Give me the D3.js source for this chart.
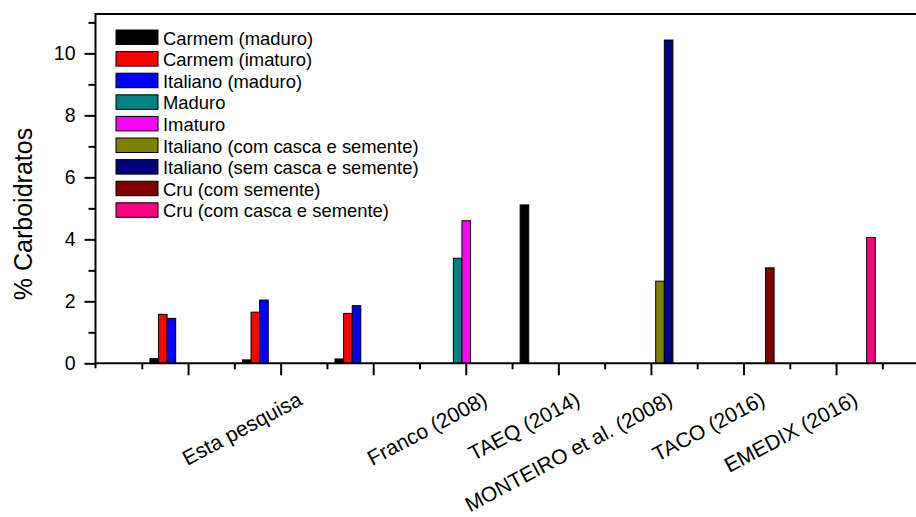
<!DOCTYPE html>
<html>
<head>
<meta charset="utf-8">
<script src="https://cdn.jsdelivr.net/npm/d3@7"></script>
<style>
  html, body { margin: 0; padding: 0; background: #fff; }
  svg { display: block; font-family: "Liberation Sans", Arial, sans-serif; }
</style>
</head>
<body>
<svg id="chart" width="916" height="517"></svg>
<script>
// Group labels along the x axis (the three "Esta pesquisa" groups share one label)
const groupLabels = ["", "Esta pesquisa", "", "Franco (2008)", "TAEQ (2014)", "MONTEIRO et al. (2008)", "TACO (2016)", "EMEDIX (2016)"];

// Series names and fill colours, in column order
const seriesNames = [
  "Carmem (maduro)",
  "Carmem (imaturo)",
  "Italiano (maduro)",
  "Maduro",
  "Imaturo",
  "Italiano (com casca e semente)",
  "Italiano (sem casca e semente)",
  "Cru (com semente)",
  "Cru (com casca e semente)"
];
const seriesColors = ["#000000", "#ff0000", "#0000ff", "#008080", "#ff00ff", "#808000", "#000080", "#800000", "#ff0080"];

// % carbohydrate per group, one array per series (null = not reported)
const carmemMaduro      = [0.15, 0.11, 0.14, null, 5.11, null, null, null];
const carmemImaturo     = [1.58, 1.65, 1.61, null, null, null, null, null];
const italianoMaduro    = [1.45, 2.04, 1.86, null, null, null, null, null];
const maduro            = [null, null, null, 3.39, null, null, null, null];
const imaturo           = [null, null, null, 4.60, null, null, null, null];
const italianoComCasca  = [null, null, null, null, null, 2.65, null, null];
const italianoSemCasca  = [null, null, null, null, null, 10.43, null, null];
const cruComSemente     = [null, null, null, null, null, null, 3.08, null];
const cruComCasca       = [null, null, null, null, null, null, null, 4.06];

const seriesValues = [carmemMaduro, carmemImaturo, italianoMaduro, maduro, imaturo,
                      italianoComCasca, italianoSemCasca, cruComSemente, cruComCasca];

// Axis ticks
const yMajorTicks = [0, 2, 4, 6, 8, 10];
const yMinorTicks = [1, 3, 5, 7, 9, 11];
const xMajorTicks = [1, 2, 3, 4, 5, 6, 7, 8, 9];
const xMinorTicks = [0.5, 1.5, 2.5, 3.5, 4.5, 5.5, 6.5, 7.5, 8.5, 9.5];

const svg = d3.select("#chart");

const plotLeft = 95.5, plotTop = 14, plotBottom = 363.3;
const step = 92.57;

const x = d3.scaleLinear().domain([0, 9]).range([plotLeft, plotLeft + 9 * step]);
const y = d3.scaleLinear().domain([0, 11.27]).range([plotBottom, plotTop]);

// sub-band for the nine series inside each group
const groupWidth = (x(1) - x(0)) * 0.836;
const sub = d3.scaleBand()
  .domain(d3.range(seriesNames.length))
  .range([-groupWidth / 2, groupWidth / 2])
  .padding(0);

// Bars
const rows = [];
seriesValues.forEach((vals, s) => {
  vals.forEach((v, g) => {
    if (v != null) rows.push({ s, g, v });
  });
});

svg.append("g").selectAll("rect")
  .data(rows)
  .join("rect")
  .attr("x", d => x(d.g + 1) + sub(d.s) + 0.5)
  .attr("y", d => y(d.v))
  .attr("width", sub.bandwidth())
  .attr("height", d => y(0) - y(d.v))
  .attr("fill", d => seriesColors[d.s])
  .attr("stroke", "#000")
  .attr("stroke-width", 1);

// X axis: major and minor ticks
const xAxisMajor = d3.axisBottom(x).tickValues(xMajorTicks).tickSize(12).tickFormat("");
const xAxisMinor = d3.axisBottom(x).tickValues(xMinorTicks).tickSize(6).tickFormat("");

const gxMinor = svg.append("g").attr("transform", `translate(0,${plotBottom})`).call(xAxisMinor);
const gxMajor = svg.append("g").attr("transform", `translate(0,${plotBottom})`).call(xAxisMajor);
[gxMinor, gxMajor].forEach(g => {
  g.select(".domain").remove();
  g.selectAll(".tick line").attr("stroke", "#000").attr("stroke-width", 2);
});
svg.append("line")
  .attr("x1", plotLeft).attr("x2", 916)
  .attr("y1", plotBottom).attr("y2", plotBottom)
  .attr("stroke", "#000").attr("stroke-width", 2);

// Top frame line
svg.append("line")
  .attr("x1", plotLeft).attr("x2", 916)
  .attr("y1", plotTop).attr("y2", plotTop)
  .attr("stroke", "#000").attr("stroke-width", 2);

// Y axis
const yAxisMajor = d3.axisLeft(y).tickValues(yMajorTicks).tickSize(11).tickPadding(8).tickFormat(d3.format("d"));
const yAxisMinor = d3.axisLeft(y).tickValues(yMinorTicks).tickSize(7).tickFormat("");

const gyMinor = svg.append("g").attr("transform", `translate(${plotLeft},0)`).call(yAxisMinor);
const gyMajor = svg.append("g").attr("transform", `translate(${plotLeft},0)`).call(yAxisMajor);
[gyMinor, gyMajor].forEach(g => {
  g.select(".domain").remove();
  g.selectAll(".tick line").attr("stroke", "#000").attr("stroke-width", 2);
});
gyMajor.selectAll(".tick text")
  .attr("fill", "#000")
  .attr("x", -20)
  .style("font-size", "19.5px")
  .style("font-family", "'Liberation Sans', Arial, sans-serif");
svg.append("line")
  .attr("x1", plotLeft).attr("x2", plotLeft)
  .attr("y1", plotTop - 1).attr("y2", plotBottom + 5)
  .attr("stroke", "#000").attr("stroke-width", 2);

// Y axis title
svg.append("text")
  .attr("transform", `translate(32,214) rotate(-90)`)
  .attr("text-anchor", "middle")
  .style("font-size", "25px")
  .attr("fill", "#000")
  .text("% Carboidratos");

// Rotated group labels
svg.append("g").selectAll("text")
  .data(groupLabels.map((t, i) => ({ t, i })).filter(d => d.t))
  .join("text")
  .attr("transform", d => `translate(${x(d.i + 1) + 23},404) rotate(-28)`)
  .attr("text-anchor", "end")
  .style("font-size", "21px")
  .attr("fill", "#000")
  .text(d => d.t);

// Legend
const legend = svg.append("g").attr("transform", "translate(116,30)");
const rowH = 21.6;
const item = legend.selectAll("g")
  .data(seriesNames)
  .join("g")
  .attr("transform", (d, i) => `translate(0,${i * rowH})`);
item.append("rect")
  .attr("width", 42).attr("height", 14.5)
  .attr("fill", (d, i) => seriesColors[i])
  .attr("stroke", "#000").attr("stroke-width", 1);
item.append("text")
  .attr("x", 47).attr("y", 14.5)
  .style("font-size", "18.4px")
  .attr("fill", "#000")
  .text(d => d);
</script>
</body>
</html>
